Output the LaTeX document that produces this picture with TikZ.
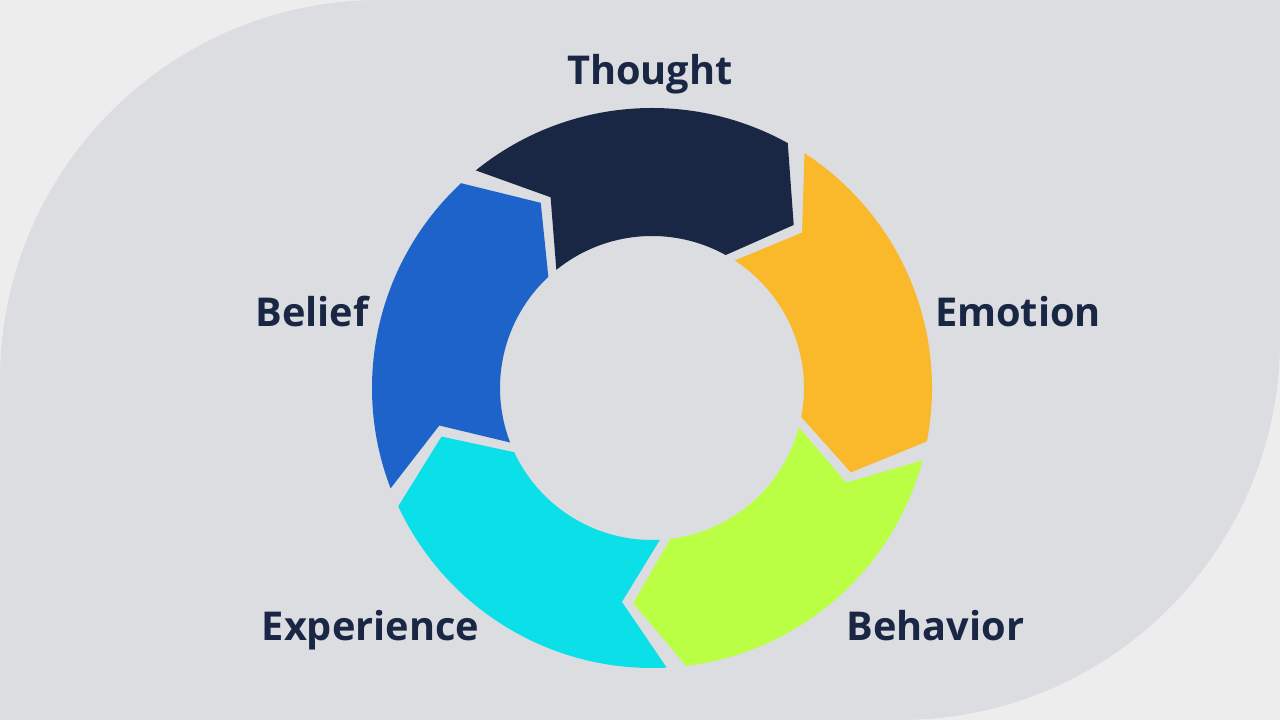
\documentclass[tikz,border=0pt]{standalone}
\usepackage{fontspec}
\setmainfont{Open Sans}
\usetikzlibrary{positioning}

\definecolor{bgout}{HTML}{EDEDED}
\definecolor{bgin}{HTML}{DCDDE1}
\definecolor{inkblue}{HTML}{1A2744}
\definecolor{thoughtc}{HTML}{1A2744}
\definecolor{emotionc}{HTML}{F9B92B}
\definecolor{behaviorc}{HTML}{BBFF44}
\definecolor{experiencec}{HTML}{0BE0E8}
\definecolor{beliefc}{HTML}{1D63C9}

\tikzset{
  cyclelabel/.style={font=\bfseries\fontsize{11.3}{14}\selectfont, text=inkblue, inner sep=0pt, anchor=base}
}

\begin{document}
\begin{tikzpicture}
  \useasboundingbox (-6.52,-3.32) rectangle (6.28,3.88);
  \fill[bgout] (-6.52,-3.32) rectangle (6.28,3.88); % Outer backdrop
  \fill[bgin] (-6.52,-3.32) -- (-6.52,0.08) arc[start angle=180, end angle=90, radius=3.8]
        -- (6.28,3.88) -- (6.28,0.48) arc[start angle=0, end angle=-90, radius=3.8] -- cycle; % Inner panel

  % Ring of arrows, clockwise
  \foreach \c/\col in {95/thoughtc, 23/emotionc, -49/behaviorc, -121/experiencec, -193/beliefc}{
    \fill[\col] ({\c+34}:2.8) arc[start angle={\c+34}, end angle={\c-34}, radius=2.8]
        -- ({\c-46}:2.16) -- ({\c-34}:1.52)
        arc[start angle={\c-34}, end angle={\c+34}, radius=1.52]
        -- ({\c+23}:2.16) -- cycle;
  }

  \node[cyclelabel] (thought) at (-0.02,3.03) {Thought};
  \node[cyclelabel] (emotion) at (3.66,0.61) {Emotion};
  \node[cyclelabel] (behavior) at (2.835,-2.53) {Behavior};
  \node[cyclelabel] (experience) at (-2.815,-2.53) {Experience};
  \node[cyclelabel] (belief) at (-3.40,0.61) {Belief};
\end{tikzpicture}
\end{document}
